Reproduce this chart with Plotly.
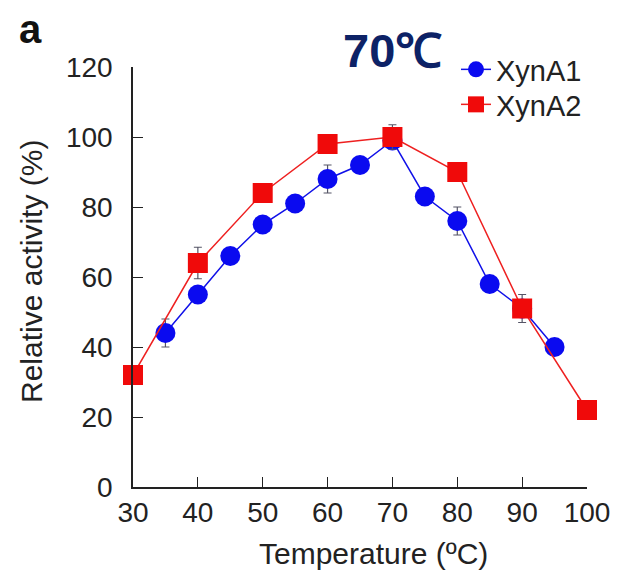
import plotly.graph_objects as go

temp_a1 = [35, 40, 45, 50, 55, 60, 65, 70, 75, 80, 85, 90, 95]
act_a1 = [44, 55, 66, 75, 81, 88, 92, 99, 83, 76, 58, 51, 40]
err_a1 = [4, 2, 1.5, 1.5, 1.5, 4, 1.5, 2, 1.5, 4, 1.5, 4, 1.5]

temp_a2 = [30, 40, 50, 60, 70, 80, 90, 100]
act_a2 = [32, 64, 84, 98, 100, 90, 51, 22]
err_a2 = [1.5, 4.5, 1.5, 2, 3.5, 1.5, 2, 1.5]

x_ticks = [30, 40, 50, 60, 70, 80, 90, 100]
y_ticks = [0, 20, 40, 60, 80, 100, 120]

FONT = "Liberation Sans, Arial, sans-serif"
OFF = 8  # page body margin offset
W, H = 619, 571
L, R, T, B = 133 - OFF, 32 + OFF, 67 - OFF, 84 + OFF
PW, PH = W - L - R, H - T - B


def px(xp):
    return (xp - OFF - L) / PW


def py(yp):
    return (H - B - (yp - OFF)) / PH


fig = go.Figure()
fig.add_trace(go.Scatter(
    x=temp_a1, y=act_a1, name="XynA1", mode="lines+markers",
    line=dict(color="#1010e8", width=1.5),
    marker=dict(symbol="circle", size=20, color="#0a0af0"),
    error_y=dict(type="data", array=err_a1, color="#555566", thickness=1.2, width=4),
    cliponaxis=False, legend="legend",
))
fig.add_trace(go.Scatter(
    x=temp_a2, y=act_a2, name="XynA2", mode="lines+markers",
    line=dict(color="#ee2020", width=1.5),
    marker=dict(symbol="square", size=20, color="#f00a0a"),
    error_y=dict(type="data", array=err_a2, color="#555566", thickness=1.2, width=4),
    cliponaxis=False, legend="legend2",
))


def ann(text, xp, yp, size, color="#222222", angle=0):
    return dict(text=text, xref="paper", yref="paper", x=px(xp), y=py(yp),
                xanchor="center", yanchor="middle", showarrow=False,
                textangle=angle, font=dict(size=size, color=color, family=FONT))


def leg(top):
    return dict(x=px(456), y=py(top), xanchor="left", yanchor="top",
                font=dict(size=29, family=FONT, color="#222222"),
                bgcolor="rgba(0,0,0,0)", tracegroupgap=0)


fig.update_layout(
    width=W, height=H,
    margin=dict(l=L, r=R, t=T, b=B, autoexpand=False),
    paper_bgcolor="white", plot_bgcolor="white",
    font=dict(family=FONT, color="#222222"),
    showlegend=True,
    legend=leg(44),
    legend2=leg(79),
    xaxis=dict(range=[30, 100], tickvals=x_ticks, ticks="inside", ticklen=10,
               tickcolor="#222222", showline=True, linecolor="#222222", linewidth=1.5,
               showgrid=False, zeroline=False, tickfont=dict(size=28),
               ticklabelstandoff=0, automargin=False),
    yaxis=dict(range=[0, 120], tickvals=y_ticks, ticks="inside", ticklen=10,
               tickcolor="#222222", showline=True, linecolor="#222222", linewidth=1.5,
               showgrid=False, zeroline=False, tickfont=dict(size=28),
               ticklabelstandoff=13, automargin=False),
    annotations=[
        ann("Temperature (ºC)", 373, 553, 30),
        ann("Relative activity (%)", 31, 272, 30, angle=-90),
        ann("<b>70℃</b>", 392, 51, 47, color="#0d2266"),
        ann("<b>a</b>", 30, 29, 40, color="#111111"),
    ],
)

fig.write_html("out.html")
